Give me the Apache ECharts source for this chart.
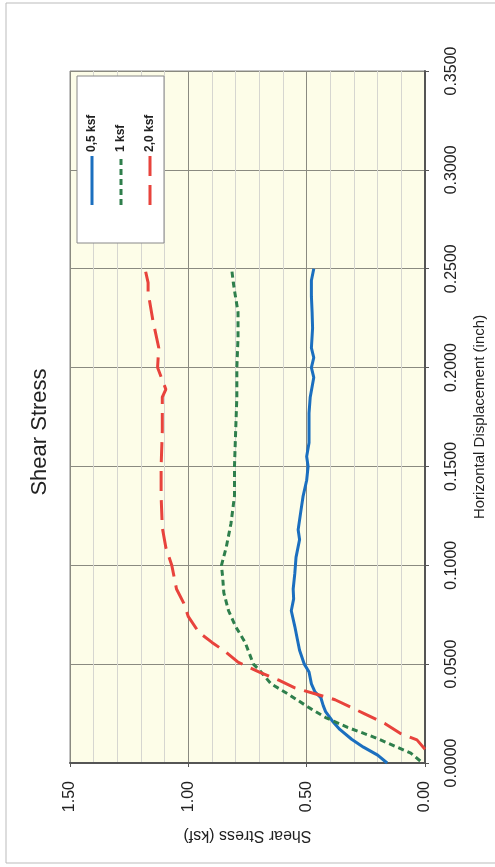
<!DOCTYPE html>
<html>
<head>
<meta charset="utf-8">
<script src="https://cdn.jsdelivr.net/npm/echarts@6/dist/echarts.min.js"></script>
<style>
  html, body { margin: 0; padding: 0; background: #fff; }
  #chart { width: 495px; height: 867px; }
</style>
</head>
<body>
<div id="chart"></div>
<script>
// Series names and data (shear stress ksf, horizontal displacement inch)
const seriesNames = ['0,5 ksf', '1 ksf', '2,0 ksf'];

const stress05 = [0.16, 0.20, 0.26, 0.31, 0.36, 0.39, 0.42, 0.43, 0.44, 0.465, 0.48, 0.49, 0.51, 0.53, 0.54, 0.55, 0.565, 0.555, 0.557, 0.55, 0.545, 0.53, 0.536, 0.525, 0.515, 0.50, 0.494, 0.50, 0.49, 0.49, 0.485, 0.47, 0.48, 0.47, 0.48, 0.475, 0.477, 0.48, 0.48, 0.47];
const disp05 = [0.000, 0.004, 0.008, 0.012, 0.017, 0.021, 0.026, 0.029, 0.033, 0.036, 0.040, 0.046, 0.050, 0.057, 0.063, 0.069, 0.077, 0.083, 0.088, 0.096, 0.104, 0.113, 0.118, 0.127, 0.135, 0.143, 0.150, 0.155, 0.162, 0.177, 0.185, 0.195, 0.200, 0.205, 0.210, 0.220, 0.228, 0.236, 0.244, 0.250];

const stress10 = [0.02, 0.06, 0.117, 0.214, 0.327, 0.42, 0.49, 0.58, 0.65, 0.70, 0.725, 0.76, 0.80, 0.83, 0.85, 0.855, 0.86, 0.84, 0.82, 0.805, 0.805, 0.80, 0.795, 0.795, 0.79, 0.79, 0.805, 0.81, 0.817];
const disp10 = [0.001, 0.005, 0.008, 0.013, 0.018, 0.023, 0.028, 0.035, 0.040, 0.047, 0.050, 0.061, 0.069, 0.077, 0.086, 0.094, 0.100, 0.109, 0.121, 0.135, 0.150, 0.168, 0.185, 0.200, 0.215, 0.228, 0.239, 0.243, 0.250];

const stress20 = [0.00, 0.034, 0.105, 0.17, 0.257, 0.31, 0.38, 0.465, 0.55, 0.62, 0.70, 0.79, 0.84, 0.90, 0.955, 1.00, 1.02, 1.05, 1.06, 1.07, 1.095, 1.11, 1.115, 1.115, 1.11, 1.11, 1.095, 1.13, 1.125, 1.15, 1.17, 1.17, 1.185];
const disp20 = [0.007, 0.0117, 0.015, 0.020, 0.025, 0.028, 0.032, 0.035, 0.038, 0.042, 0.046, 0.051, 0.056, 0.061, 0.066, 0.074, 0.081, 0.088, 0.094, 0.100, 0.109, 0.119, 0.135, 0.150, 0.168, 0.185, 0.189, 0.200, 0.210, 0.224, 0.238, 0.243, 0.251];

const colors = ['#1b6fbf', '#2f7f4c', '#e8433c'];

function pairs(s, d) {
  return s.map((v, i) => [v, d[i]]);
}

const chart = echarts.init(document.getElementById('chart'));

const font = 'Liberation Sans, Arial, sans-serif';

const option = {
  animation: false,
  backgroundColor: '#fff',
  grid: {
    left: 70,
    right: 67,
    top: 71,
    bottom: 104,
    show: true,
    backgroundColor: '#fdfde8',
    borderColor: '#888',
    borderWidth: 1
  },
  xAxis: {
    type: 'value',
    min: 0,
    max: 1.5,
    interval: 0.5,
    inverse: true,
    position: 'bottom',
    name: 'Shear Stress (ksf)',
    nameLocation: 'middle',
    nameRotate: 180,
    nameGap: 64,
    nameTextStyle: { color: '#222', fontSize: 16, fontFamily: font },
    axisLine: { onZero: false, lineStyle: { color: '#555', width: 2 } },
    axisTick: { show: true, length: 4, lineStyle: { color: '#555' } },
    axisLabel: {
      rotate: 90,
      margin: 18,
      color: '#222',
      fontSize: 16,
      fontFamily: font,
      formatter: v => v.toFixed(2)
    },
    splitLine: { show: true, lineStyle: { color: '#8a8a80', width: 1 } },
    minorTick: { show: false, splitNumber: 5 },
    minorSplitLine: { show: true, lineStyle: { color: '#d6d6d0', width: 1 } }
  },
  yAxis: {
    type: 'value',
    min: 0,
    max: 0.35,
    interval: 0.05,
    position: 'right',
    name: 'Horizontal Displacement (inch)',
    nameLocation: 'middle',
    nameRotate: 90,
    nameGap: 47,
    nameTextStyle: { color: '#222', fontSize: 15, fontFamily: font },
    axisLine: { onZero: false, lineStyle: { color: '#555', width: 2 } },
    axisTick: { show: true, length: 4, lineStyle: { color: '#555' } },
    axisLabel: {
      rotate: 90,
      margin: 19,
      color: '#222',
      fontSize: 16,
      fontFamily: font,
      formatter: v => v.toFixed(4)
    },
    splitLine: { show: true, lineStyle: { color: '#8a8a80', width: 1 } }
  },
  series: [
    {
      name: seriesNames[0],
      type: 'line',
      data: pairs(stress05, disp05),
      showSymbol: false,
      color: colors[0],
      lineStyle: { width: 3, type: 'solid' }
    },
    {
      name: seriesNames[1],
      type: 'line',
      data: pairs(stress10, disp10),
      showSymbol: false,
      color: colors[1],
      lineStyle: { width: 3, type: [6, 4] }
    },
    {
      name: seriesNames[2],
      type: 'line',
      data: pairs(stress20, disp20),
      showSymbol: false,
      color: colors[2],
      lineStyle: { width: 3, type: [20, 9] }
    }
  ],
  graphic: [
    // page border
    {
      type: 'rect',
      shape: { x: 6, y: 3, width: 500, height: 860 },
      style: { fill: null, stroke: '#bbb', lineWidth: 1 },
      silent: true
    },
    // rotated title
    {
      type: 'text',
      x: 40,
      y: 432,
      rotation: Math.PI / 2,
      style: {
        text: 'Shear Stress',
        fill: '#222',
        fontSize: 22,
        fontFamily: font,
        align: 'center',
        verticalAlign: 'middle'
      }
    },
    // legend box
    {
      type: 'rect',
      shape: { x: 77, y: 76, width: 87, height: 167 },
      style: { fill: '#fff', stroke: '#888', lineWidth: 1 },
      z: 10
    }
  ]
};

// legend entries (drawn rotated like the scanned page)
const legendX = [92, 121, 150];
const legendDash = [null, [6, 4], [20, 9]];
seriesNames.forEach((name, i) => {
  option.graphic.push({
    type: 'line',
    shape: { x1: legendX[i], y1: 205, x2: legendX[i], y2: 156 },
    style: { stroke: colors[i], lineWidth: 3, lineDash: legendDash[i] },
    z: 11
  });
  option.graphic.push({
    type: 'text',
    x: legendX[i],
    y: 152,
    rotation: Math.PI / 2,
    style: {
      text: name,
      fill: '#222',
      fontSize: 12,
      fontWeight: 'bold',
      fontFamily: font,
      align: 'left',
      verticalAlign: 'middle'
    },
    z: 11
  });
});

chart.setOption(option);
</script>
</body>
</html>
